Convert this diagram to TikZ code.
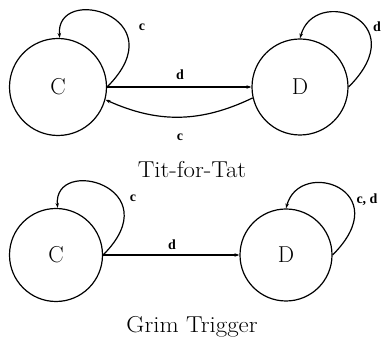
\documentclass[tikz,border=0pt]{standalone}
\usepackage{fontspec}
\newfontfamily\lblfont{Liberation Serif}
\usetikzlibrary{arrows.meta}
\begin{document}
\begin{tikzpicture}[x=1pt,y=1pt,
  state/.style={circle,draw,line width=1.2pt,inner sep=0pt,font=\fontsize{23}{27}\selectfont},
  edge/.style={line width=1.2pt,-{Stealth[length=5pt,width=3.5pt]}},
  lbl/.style={font=\lblfont\bfseries\fontsize{14}{16}\selectfont,inner sep=0pt},
  title/.style={font=\fontsize{23}{27}\selectfont,anchor=base,inner sep=0pt}]
\useasboundingbox (0,0) rectangle (382,339);
% Tit-for-Tat
\node[state,minimum size=97pt] (C1) at (58,252) {C};
\node[state,minimum size=96pt] (D1) at (300,252) {D};
\draw[edge] (C1.east) .. controls +(45:100) and +(95:55) .. (C1.88);
\draw[edge] (D1.east) .. controls +(45:95) and +(75:55) .. (D1.90);
\draw[edge] (C1.east) -- (D1.west);
\draw[edge] (D1.193) to[bend left=25] (C1.-15);
\node[lbl] (lc1) at (142,312) {c};
\node[lbl] (ld1) at (377,312) {d};
\node[lbl] (ld2) at (180,264) {d};
\node[lbl] (lc2) at (180,202) {c};
\node[title] (t1) at (192,161) {\scalebox{1.08}[1]{Tit-for-Tat}};
% Grim Trigger
\node[state,minimum size=93pt] (C2) at (56,84) {C};
\node[state,minimum size=92pt] (D2) at (286,84) {D};
\draw[edge] (C2.east) .. controls +(45:96) and +(95:53) .. (C2.88);
\draw[edge] (D2.east) .. controls +(45:92) and +(75:53) .. (D2.90);
\draw[edge] (C2.east) -- (D2.west);
\node[lbl] (lc3) at (133,141) {c};
\node[lbl] (lcd) at (367,139) {c, d};
\node[lbl] (ld3) at (172,94) {d};
\node[title] (t2) at (192,6) {\scalebox{1.08}[1]{Grim Trigger}};
\end{tikzpicture}
\end{document}
